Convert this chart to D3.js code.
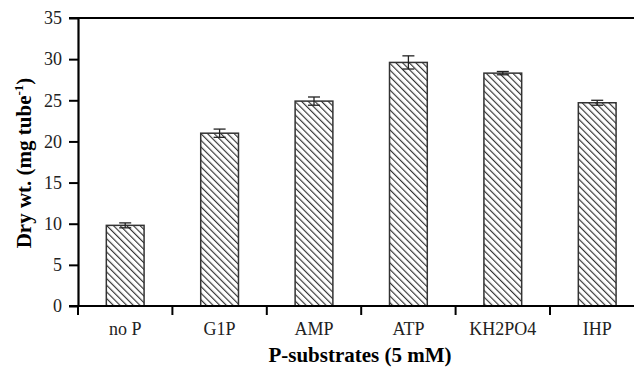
<!DOCTYPE html>
<html>
<head>
<meta charset="utf-8">
<script src="https://cdn.jsdelivr.net/npm/d3@7"></script>
<style>
  body { margin: 0; background: #fff; }
  svg { display: block; }
</style>
</head>
<body>
<script>
// data
const substrates = ['no P', 'G1P', 'AMP', 'ATP', 'KH2PO4', 'IHP'];
const dryWt = [9.8, 21.0, 24.9, 29.6, 28.3, 24.7];
const errs = [0.3, 0.5, 0.5, 0.8, 0.2, 0.3];
const yTicks = [0, 5, 10, 15, 20, 25, 30, 35];

const width = 634, height = 367;
const margin = {top: 18, left: 78, bottom: 61};
const font = "'Liberation Serif', 'Times New Roman', serif";

const svg = d3.select('body').append('svg')
  .attr('width', width)
  .attr('height', height);

// hatch pattern for the bars (lines running down to the right)
const pat = svg.append('defs').append('pattern')
  .attr('id', 'hatch')
  .attr('patternUnits', 'userSpaceOnUse')
  .attr('width', 4.7)
  .attr('height', 4.7)
  .attr('patternTransform', 'rotate(-45)');
pat.append('rect').attr('width', 4.7).attr('height', 4.7).attr('fill', '#fff');
pat.append('line')
  .attr('x1', 0).attr('y1', 0).attr('x2', 0).attr('y2', 4.7)
  .attr('stroke', '#333').attr('stroke-width', 2.3);

const x = d3.scaleBand()
  .domain(substrates)
  .range([margin.left, margin.left + 6 * 94.4])
  .paddingInner(0.6)
  .paddingOuter(0.3);

const y = d3.scaleLinear()
  .domain([0, 35])
  .range([height - margin.bottom, margin.top]);

const rows = substrates.map((s, i) => ({s: s, v: dryWt[i], e: errs[i]}));

// bars
svg.append('g').selectAll('rect').data(rows).join('rect')
  .attr('x', d => x(d.s))
  .attr('y', d => y(d.v))
  .attr('width', x.bandwidth())
  .attr('height', d => y(0) - y(d.v))
  .attr('fill', 'url(#hatch)')
  .attr('stroke', '#333')
  .attr('stroke-width', 1.5);

// error bars
const eb = svg.append('g').attr('stroke', '#222').attr('stroke-width', 1.3);
rows.forEach(d => {
  const cx = x(d.s) + x.bandwidth() / 2;
  eb.append('line').attr('x1', cx).attr('x2', cx)
    .attr('y1', y(d.v - d.e)).attr('y2', y(d.v + d.e));
  [d.v - d.e, d.v + d.e].forEach(v => {
    eb.append('line').attr('x1', cx - 6).attr('x2', cx + 6)
      .attr('y1', y(v)).attr('y2', y(v));
  });
});

// y axis
const yAxis = svg.append('g')
  .attr('transform', `translate(${margin.left},0)`)
  .call(d3.axisLeft(y).tickValues(yTicks).tickSize(9).tickPadding(7).tickSizeOuter(0));
yAxis.select('.domain').attr('stroke-width', 2.2);
yAxis.selectAll('.tick line').attr('stroke-width', 2);
yAxis.selectAll('text')
  .attr('font-family', font)
  .attr('font-size', 18)
  .attr('fill', '#222');

// top frame line
svg.append('line')
  .attr('x1', margin.left - 9).attr('x2', width)
  .attr('y1', y(35)).attr('y2', y(35))
  .attr('stroke', '#000').attr('stroke-width', 2.2);

// x axis: ticks between categories
const xAxis = svg.append('g')
  .attr('transform', `translate(0,${y(0)})`);
xAxis.append('line')
  .attr('x1', margin.left - 9).attr('x2', width)
  .attr('stroke', '#000').attr('stroke-width', 2.2);
xAxis.selectAll('.sep').data(substrates).join('line')
  .attr('class', 'sep')
  .attr('x1', d => x(d) - x.step() * 0.3)
  .attr('x2', d => x(d) - x.step() * 0.3)
  .attr('y1', 0).attr('y2', 9)
  .attr('stroke', '#000').attr('stroke-width', 2);
xAxis.selectAll('.lbl').data(substrates).join('text')
  .attr('class', 'lbl')
  .attr('x', d => x(d) + x.bandwidth() / 2)
  .attr('y', 29)
  .attr('text-anchor', 'middle')
  .attr('font-family', font)
  .attr('font-size', 18)
  .attr('fill', '#222')
  .text(d => d);

// axis titles
svg.append('text')
  .attr('x', 360)
  .attr('y', 362)
  .attr('text-anchor', 'middle')
  .attr('font-family', font)
  .attr('font-size', 21)
  .attr('font-weight', 'bold')
  .text('P-substrates (5 mM)');

const yl = svg.append('text')
  .attr('transform', 'translate(31,163) rotate(-90)')
  .attr('text-anchor', 'middle')
  .attr('font-family', font)
  .attr('font-size', 21)
  .attr('font-weight', 'bold');
yl.append('tspan').text('Dry wt. (mg tube');
yl.append('tspan').attr('dy', -8).attr('font-size', 13).text('-1');
yl.append('tspan').attr('dy', 8).text(')');
</script>
</body>
</html>
